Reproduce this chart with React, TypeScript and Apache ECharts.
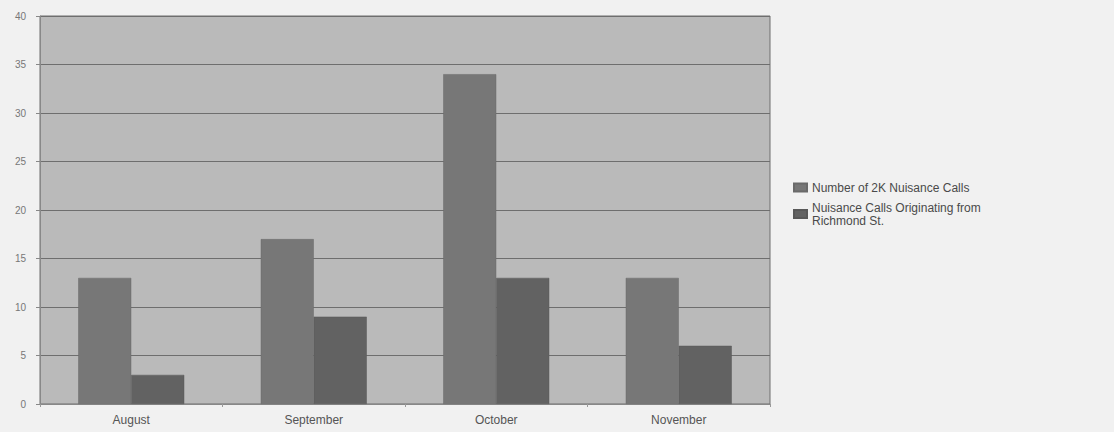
import React, { useEffect, useRef } from "react";
import * as echarts from "echarts";

const categories = ["August", "September", "October", "November"];
const totalCalls = [13, 17, 34, 13];
const richmondCalls = [3, 9, 13, 6];
const seriesNames = ["Number of 2K Nuisance Calls", "Nuisance Calls Originating from Richmond St."];

export default function App() {
  const ref = useRef<HTMLDivElement>(null);
  useEffect(() => {
    if (!ref.current) return;
    const chart = echarts.init(ref.current, null, { renderer: "svg" });
    chart.setOption({
      animation: false,
      backgroundColor: "#f1f1f1",
      textStyle: { fontFamily: "Liberation Sans, Arial, sans-serif" },
      grid: {
        left: 40,
        right: 344,
        top: 16,
        bottom: 28,
        show: true,
        backgroundColor: "#bababa",
        borderColor: "#6e6e6e",
        borderWidth: 1,
      },
      legend: {
        orient: "vertical",
        left: 788,
        top: 176,
        itemWidth: 13,
        itemHeight: 8,
        itemGap: 7,
        icon: "rect",
        textStyle: { color: "#4a4a4a", fontSize: 12, lineHeight: 13 },
        formatter: (name: string) =>
          name === seriesNames[1] ? "Nuisance Calls Originating from\nRichmond St." : name,
        data: seriesNames,
      },
      xAxis: {
        type: "category",
        data: categories,
        axisLine: { lineStyle: { color: "#888" } },
        axisTick: { show: true, length: 3, lineStyle: { color: "#999" } },
        axisLabel: { color: "#555", fontSize: 12, margin: 10 },
      },
      yAxis: {
        type: "value",
        min: 0,
        max: 40,
        interval: 5,
        axisLine: { show: true, lineStyle: { color: "#888" } },
        axisTick: { show: true, length: 4, lineStyle: { color: "#888" } },
        axisLabel: { color: "#777", fontSize: 10, margin: 14 },
        splitLine: { lineStyle: { color: "#6e6e6e", width: 1 } },
      },
      series: [
        {
          name: seriesNames[0],
          type: "bar",
          data: totalCalls,
          barWidth: 53,
          barGap: "0%",
          itemStyle: { color: "#777777", borderColor: "#6a6a6a", borderWidth: 0.5 },
        },
        {
          name: seriesNames[1],
          type: "bar",
          data: richmondCalls,
          barWidth: 53,
          barGap: "0%",
          itemStyle: { color: "#626262", borderColor: "#585858", borderWidth: 0.5 },
        },
      ],
    });
    return () => chart.dispose();
  }, []);
  return (
    <div
      ref={ref}
      style={{ position: "fixed", left: 0, top: 0, width: 1114, height: 432 }}
    />
  );
}
